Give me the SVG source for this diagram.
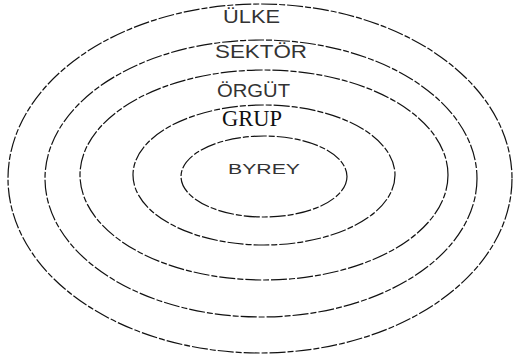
<svg xmlns="http://www.w3.org/2000/svg" width="514" height="358" viewBox="0 0 514 358">
<style>
.ring{fill:none;stroke:#111;stroke-width:1.2;stroke-dasharray:16 2 6 2}
.lbl{font-family:"Liberation Sans",Arial,sans-serif;fill:#333;text-anchor:start}
.ser{font-family:"Liberation Serif","Times New Roman",serif;fill:#111}
</style>
<rect width="514" height="358" fill="#fff"/>
<g id="ulke">
<ellipse class="ring" cx="260" cy="178.5" rx="252" ry="174.5"/>
<text class="lbl" x="223" y="23" font-size="18" textLength="57" lengthAdjust="spacingAndGlyphs">ÜLKE</text>
</g>
<g id="sektor">
<ellipse class="ring" cx="261" cy="178.5" rx="216" ry="138.5"/>
<text class="lbl" x="215" y="58" font-size="19" textLength="92" lengthAdjust="spacingAndGlyphs">SEKTÖR</text>
</g>
<g id="orgut">
<ellipse class="ring" cx="264" cy="175" rx="184" ry="105"/>
<text class="lbl" x="217" y="97" font-size="19" textLength="73" lengthAdjust="spacingAndGlyphs">ÖRGÜT</text>
</g>
<g id="grup">
<ellipse class="ring" cx="264" cy="175" rx="131" ry="70"/>
<text class="ser" x="222" y="126" font-size="24" textLength="60" lengthAdjust="spacingAndGlyphs">GRUP</text>
</g>
<g id="birey">
<ellipse class="ring" cx="264" cy="176.5" rx="83" ry="40.5"/>
<text class="lbl" x="228" y="174" font-size="15" textLength="72" lengthAdjust="spacingAndGlyphs">BYREY</text>
</g>
<g id="connectors"/>
</svg>
